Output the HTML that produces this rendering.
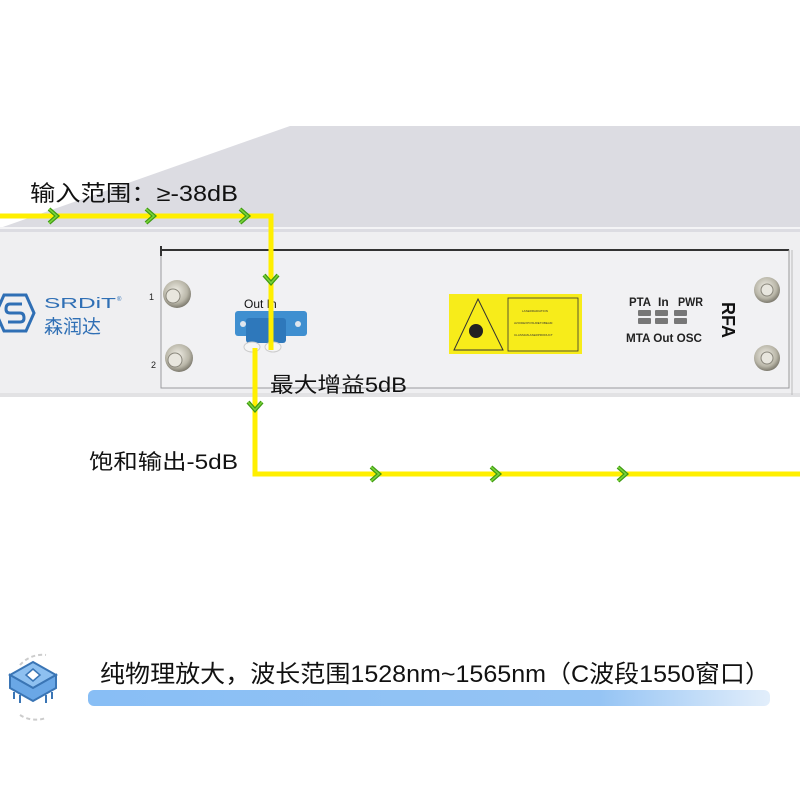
<!DOCTYPE html>
<html><head><meta charset="utf-8"><style>
html,body{margin:0;padding:0;background:#fff;}
body{width:800px;height:800px;overflow:hidden;position:relative;font-family:"Liberation Sans","Noto Sans CJK SC",sans-serif;}
svg text{font-family:"Liberation Sans","Noto Sans CJK SC",sans-serif;}
</style></head><body>
<svg width="800" height="800" viewBox="0 0 800 800" xmlns="http://www.w3.org/2000/svg">
<defs>
<linearGradient id="bar" x1="0" x2="1" y1="0" y2="0">
<stop offset="0" stop-color="#88bef5"/><stop offset="0.75" stop-color="#95c4f4"/><stop offset="1" stop-color="#e2eefb"/>
</linearGradient>
<radialGradient id="knob" cx="0.45" cy="0.4" r="0.6">
<stop offset="0" stop-color="#f2f0e8"/><stop offset="0.7" stop-color="#b9b6a8"/><stop offset="1" stop-color="#7d7a6e"/>
</radialGradient>
</defs>
<polygon points="0,228 290,126 800,126 800,232 0,232" fill="#dcdce2"/>
<line x1="0" y1="228" x2="800" y2="228" stroke="#f4f4f6" stroke-width="2"/>
<rect x="0" y="232" width="800" height="165" fill="#efeff1"/>
<rect x="0" y="393" width="800" height="4" fill="#e2e2e4"/>
<rect x="161" y="250" width="628" height="138" fill="#f1f1f3" stroke="#9a9a9e" stroke-width="1"/>
<line x1="161" y1="250" x2="789" y2="250" stroke="#333" stroke-width="2"/>
<line x1="161" y1="246" x2="161" y2="256" stroke="#333" stroke-width="2"/>
<line x1="789" y1="250" x2="789" y2="388" stroke="#999" stroke-width="1"/>
<line x1="792" y1="250" x2="792" y2="395" stroke="#bbb" stroke-width="1"/>
<polygon points="4,295 26,295 34,313 26,331 4,331 -4,313" fill="none" stroke="#2f6fb5" stroke-width="3"/>
<path d="M22,304 H10 Q6,304 6,309 Q6,313 10,313 H20 Q24,313 24,318 Q24,322 20,322 H8" fill="none" stroke="#2f6fb5" stroke-width="3"/>
<text x="44" y="308" font-size="15" fill="#2f6fb5" textLength="72" lengthAdjust="spacingAndGlyphs">SRDiT</text>
<text x="117" y="301" font-size="6" fill="#2f6fb5">®</text>
<text x="44" y="333" font-size="19" fill="#2f6fb5">森润达</text>
<text x="149" y="300" font-size="9" fill="#222">1</text>
<text x="151" y="368" font-size="9" fill="#222">2</text>
<circle cx="177" cy="294" r="14" fill="url(#knob)"/>
<circle cx="173" cy="296" r="7" fill="#e8e6de" stroke="#8a877c"/>
<circle cx="179" cy="358" r="14" fill="url(#knob)"/>
<circle cx="175" cy="360" r="7" fill="#e8e6de" stroke="#8a877c"/>
<circle cx="767" cy="290" r="13" fill="url(#knob)"/>
<circle cx="767" cy="290" r="6" fill="#e8e6de" stroke="#8a877c"/>
<circle cx="767" cy="358" r="13" fill="url(#knob)"/>
<circle cx="767" cy="358" r="6" fill="#e8e6de" stroke="#8a877c"/>
<text x="244" y="308" font-size="12" fill="#111">Out In</text>
<rect x="235" y="311" width="72" height="25" rx="3" fill="#3f8fd0"/>
<rect x="246" y="318" width="40" height="25" rx="3" fill="#2e78bb"/>
<circle cx="243" cy="324" r="3" fill="#dfe6ee"/>
<circle cx="298" cy="324" r="3" fill="#dfe6ee"/>
<ellipse cx="252" cy="347" rx="8" ry="5" fill="#f5f5f5" stroke="#ccc"/>
<ellipse cx="273" cy="347" rx="8" ry="5" fill="#f5f5f5" stroke="#ccc"/>
<rect x="449" y="294" width="133" height="60" fill="#f7ec1a"/>
<polygon points="478,299 503,350 454,350" fill="none" stroke="#333" stroke-width="1"/>
<circle cx="476" cy="331" r="7" fill="#222"/>
<rect x="508" y="298" width="70" height="53" fill="none" stroke="#333" stroke-width="0.8"/>
<text x="522" y="312" font-size="3" fill="#333">LASERRADIATION</text>
<text x="514" y="324" font-size="3" fill="#333">AVOIDEXPOSURETOBEAM</text>
<text x="514" y="336" font-size="3" fill="#333">CLASS1MLASERPRODUCT</text>
<text x="629" y="306" font-size="12" font-weight="bold" fill="#222" textLength="22" lengthAdjust="spacingAndGlyphs">PTA</text>
<text x="658" y="306" font-size="12" font-weight="bold" fill="#222">In</text>
<text x="678" y="306" font-size="12" font-weight="bold" fill="#222" textLength="25" lengthAdjust="spacingAndGlyphs">PWR</text>
<g fill="#777"><rect x="638" y="310" width="13" height="6" rx="1"/><rect x="638" y="318" width="13" height="6" rx="1"/>
<rect x="655" y="310" width="13" height="6" rx="1"/><rect x="655" y="318" width="13" height="6" rx="1"/>
<rect x="674" y="310" width="13" height="6" rx="1"/><rect x="674" y="318" width="13" height="6" rx="1"/></g>
<text x="626" y="342" font-size="12" font-weight="bold" fill="#222" textLength="76" lengthAdjust="spacingAndGlyphs">MTA Out OSC</text>
<text x="0" y="0" font-size="18" font-weight="bold" fill="#111" transform="translate(722,302) rotate(90)">RFA</text>
<polyline points="0,216 271,216 271,350" fill="none" stroke="#ffef00" stroke-width="5"/>
<polyline points="255,348 255,474 800,474" fill="none" stroke="#ffef00" stroke-width="5"/>
<g fill="none" stroke="#3e9a12" stroke-width="4">
<polyline points="49,209 57,216 49,223"/><polyline points="146,209 154,216 146,223"/><polyline points="240,209 248,216 240,223"/>
<polyline points="264,275 271,283 278,275"/><polyline points="248,402 255,410 262,402"/>
<polyline points="371,467 379,474 371,481"/><polyline points="491,467 499,474 491,481"/><polyline points="618,467 626,474 618,481"/>
</g>
<g fill="none" stroke="#7ad43a" stroke-width="1.5">
<polyline points="49,209 57,216 49,223"/><polyline points="146,209 154,216 146,223"/><polyline points="240,209 248,216 240,223"/>
<polyline points="264,275 271,283 278,275"/><polyline points="248,402 255,410 262,402"/>
<polyline points="371,467 379,474 371,481"/><polyline points="491,467 499,474 491,481"/><polyline points="618,467 626,474 618,481"/>
</g>
<text x="30" y="201" font-size="22" fill="#111" textLength="208" lengthAdjust="spacingAndGlyphs">输入范围：≥-38dB</text>
<text x="270" y="392" font-size="21" fill="#111" textLength="137" lengthAdjust="spacingAndGlyphs">最大增益5dB</text>
<text x="89" y="469" font-size="21" fill="#111" textLength="149" lengthAdjust="spacingAndGlyphs">饱和输出-5dB</text>
<rect x="88" y="690" width="682" height="16" rx="6" fill="url(#bar)"/>
<path d="M20,665 A30,30 0 0 1 46,655" fill="none" stroke="#ccc" stroke-width="2" stroke-dasharray="4,3"/>
<path d="M20,715 A30,30 0 0 0 46,718" fill="none" stroke="#ccc" stroke-width="2" stroke-dasharray="4,3"/>
<polygon points="33,662 56,675 33,688 10,675" fill="#8ec0f0" stroke="#3a75b5" stroke-width="2"/>
<polygon points="10,675 10,688 33,701 56,688 56,675 33,688" fill="#6aa7e6" stroke="#3a75b5" stroke-width="2"/>
<polygon points="33,669 40,675 33,681 26,675" fill="#fff" stroke="#3a75b5" stroke-width="1.5"/>
<g stroke="#3a75b5" stroke-width="2"><line x1="14" y1="692" x2="14" y2="699"/><line x1="20" y1="695" x2="20" y2="703"/><line x1="46" y1="695" x2="46" y2="703"/><line x1="52" y1="692" x2="52" y2="699"/></g>
<text x="100" y="682" font-size="24" fill="#111" textLength="670" lengthAdjust="spacingAndGlyphs">纯物理放大，波长范围1528nm~1565nm（C波段1550窗口）</text>
</svg>
</body></html>
